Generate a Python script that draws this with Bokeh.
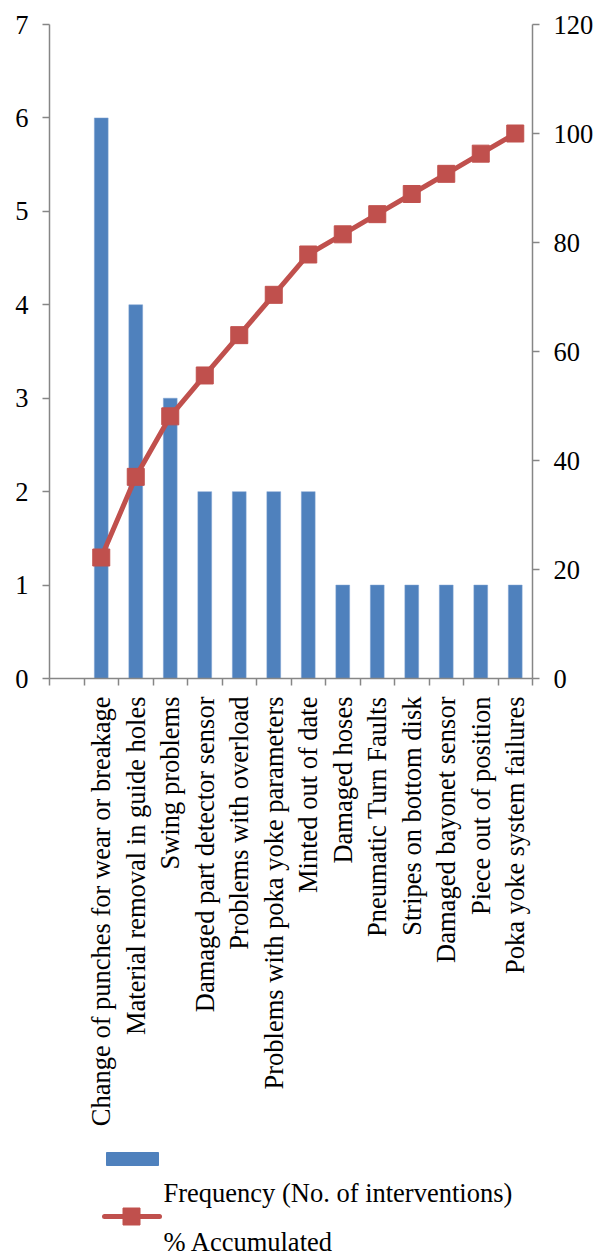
from bokeh.plotting import figure
from bokeh.models import (Range1d, LinearAxis, FixedTicker, ColumnDataSource)
from bokeh.layouts import column
from bokeh.core.properties import value
from bokeh.embed import file_html
from bokeh.resources import INLINE
import math

# Pareto data: failure causes, interventions and cumulative share
causes = [
    "Change of punches for wear or breakage",
    "Material removal in guide holes",
    "Swing problems",
    "Damaged part detector sensor",
    "Problems with overload",
    "Problems with poka yoke parameters",
    "Minted out of date",
    "Damaged hoses",
    "Pneumatic Turn Faults",
    "Stripes on bottom disk",
    "Damaged bayonet sensor",
    "Piece out of position",
    "Poka yoke system failures",
]
frequency = [6, 4, 3, 2, 2, 2, 2, 1, 1, 1, 1, 1, 1]
accumulated = [22.2, 37.0, 48.1, 55.6, 63.0, 70.4, 77.8, 81.5, 85.2, 88.9, 92.6, 96.3, 100.0]
left_ticks = [0, 1, 2, 3, 4, 5, 6, 7]
right_ticks = [0, 20, 40, 60, 80, 100, 120]

FONT = "Liberation Serif"
FS = "26.5px"
AXIS_GREY = "#868686"
BAR_BLUE = "#4F81BD"
LINE_RED = "#C0504D"
PAD_L, PAD_R = 49, 67

# slot 0 is an empty leading category, causes occupy slots 1..13
pos = list(range(1, len(causes) + 1))
src = ColumnDataSource(dict(x=pos, freq=frequency, acc=accumulated, name=causes))

p = figure(width=599, height=1140, output_backend="svg", toolbar_location=None,
           x_range=Range1d(-0.5, len(causes) + 0.5), y_range=Range1d(0, 7),
           min_border_left=PAD_L, min_border_right=PAD_R, min_border_top=24,
           min_border_bottom=462)
p.extra_y_ranges = {"pct": Range1d(0, 120)}
p.outline_line_color = None
p.xgrid.visible = False
p.ygrid.visible = False
p.background_fill_color = "white"
p.border_fill_color = "white"

p.vbar(x="x", top="freq", width=0.4, source=src, color=BAR_BLUE,
       line_color="#7FA3D3", line_width=0.5)
p.line(x="x", y="acc", source=src, color=LINE_RED, line_width=5,
       y_range_name="pct")
p.scatter(x="x", y="acc", source=src, marker="square", size=17,
          fill_color=LINE_RED, line_color=LINE_RED, y_range_name="pct")

# category axis: labels at slot centres, small ticks on slot boundaries
xa = p.xaxis[0]
xa.ticker = FixedTicker(ticks=list(range(0, len(causes) + 1)),
                        minor_ticks=[i - 0.5 for i in range(0, len(causes) + 2)])
xa.major_label_overrides = {0: ""} | {i: c for i, c in zip(pos, causes)}
xa.major_label_orientation = math.pi / 2
xa.major_tick_out = 0
xa.major_tick_in = 0
xa.minor_tick_out = 7
xa.minor_tick_in = 0
xa.major_label_standoff = 11
xa.axis_line_color = AXIS_GREY
xa.axis_line_width = 1.5
xa.minor_tick_line_color = AXIS_GREY
xa.minor_tick_line_width = 1.5
xa.major_label_text_font = FONT
xa.major_label_text_font_size = FS
xa.major_label_text_color = "black"

ya = p.yaxis[0]
ya.ticker = FixedTicker(ticks=left_ticks)
ya.major_tick_out = 7
ya.major_tick_in = 0
ya.minor_tick_line_color = None
ya.major_label_standoff = 14
ya.axis_line_color = AXIS_GREY
ya.axis_line_width = 1.5
ya.major_tick_line_color = AXIS_GREY
ya.major_tick_line_width = 1.5
ya.major_label_text_font = FONT
ya.major_label_text_font_size = FS
ya.major_label_text_color = "black"

ra = LinearAxis(y_range_name="pct", ticker=FixedTicker(ticks=right_ticks))
ra.major_tick_out = 7
ra.major_tick_in = 0
ra.minor_tick_line_color = None
ra.major_label_standoff = 14
ra.axis_line_color = AXIS_GREY
ra.axis_line_width = 1.5
ra.major_tick_line_color = AXIS_GREY
ra.major_tick_line_width = 1.5
ra.major_label_text_font = FONT
ra.major_label_text_font_size = FS
ra.major_label_text_color = "black"
p.add_layout(ra, "right")

# legend panel below the chart; x in page pixels, y downwards
lg = figure(width=599, height=116, output_backend="svg", toolbar_location=None,
            x_range=Range1d(PAD_L, 599 - PAD_R), y_range=Range1d(116, 0),
            x_axis_location=None, y_axis_location=None,
            min_border_left=PAD_L, min_border_right=PAD_R, min_border_top=0,
            min_border_bottom=0, outline_line_color=None)
lg.grid.visible = False
lg.quad(left=[106], right=[158], top=[12], bottom=[25], color=BAR_BLUE)
lg.line(x=[104, 159], y=[76, 76], color=LINE_RED, line_width=5, line_cap="round")
lg.scatter(x=[131], y=[76], marker="square", size=17, color=LINE_RED)
lg.text(x=[163, 163], y=[52, 101],
        text=["Frequency (No. of interventions)", "% Accumulated"],
        text_font=value(FONT), text_font_size=FS, text_baseline="middle",
        text_color="black")

layout = column(p, lg, spacing=0)
open("out.html", "w").write(file_html(layout, INLINE))
